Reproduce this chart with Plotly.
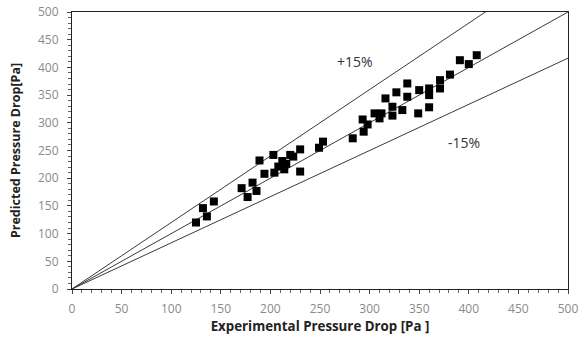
import plotly.graph_objects as go

exp_pd = [125, 132, 136, 143, 171, 177, 182, 186, 189, 194, 203, 204, 208, 212, 214, 216,
          220, 223, 230, 230, 249, 253, 283, 294, 293, 298, 305, 310, 312, 316, 323, 323,
          327, 333, 338, 338, 349, 350, 360, 360, 360, 371, 371, 381, 391, 400, 408]
pred_pd = [120, 146, 131, 158, 182, 166, 192, 177, 232, 208, 242, 210, 221, 231, 216, 226,
           242, 239, 252, 212, 255, 266, 272, 284, 306, 297, 317, 308, 317, 344, 329, 313,
           355, 323, 371, 347, 317, 359, 362, 350, 328, 377, 362, 387, 413, 406, 422]

line_x = [0, 500]
slope_upper = 1.2
slope_lower = 1 / 1.2
x_ticks = [0, 50, 100, 150, 200, 250, 300, 350, 400, 450, 500]

fig = go.Figure()
line_style = dict(color="#3a3a3a", width=1)
fig.add_trace(go.Scatter(x=line_x, y=[v * slope_upper for v in line_x], mode="lines",
                         line=line_style, showlegend=False, hoverinfo="skip"))
fig.add_trace(go.Scatter(x=line_x, y=line_x, mode="lines",
                         line=line_style, showlegend=False, hoverinfo="skip"))
fig.add_trace(go.Scatter(x=line_x, y=[v * slope_lower for v in line_x], mode="lines",
                         line=line_style, showlegend=False, hoverinfo="skip"))
fig.add_trace(go.Scatter(x=exp_pd, y=pred_pd, mode="markers",
                         marker=dict(symbol="square", size=8, color="black"),
                         showlegend=False))

fig.add_annotation(x=285, y=410, text="+15%", showarrow=False,
                   font=dict(family="Open Sans", size=14, color="#333333"))
fig.add_annotation(x=395, y=264, text="-15%", showarrow=False,
                   font=dict(family="Open Sans", size=14, color="#333333"))

axis_common = dict(range=[0, 500], tickvals=x_ticks, showgrid=False, zeroline=False,
                   showline=True, linecolor="#222222", linewidth=1, mirror=True,
                   automargin=False,
                   ticks="outside", ticklen=4, tickcolor="#444444",
                   tickfont=dict(family="Open Sans", size=12, color="#8a8a8a"),
                   minor=dict(dtick=10, ticks="outside", ticklen=3, tickcolor="#666666"))

fig.update_xaxes(**axis_common, ticklabelstandoff=5,
                 title=dict(text="<b>Experimental Pressure Drop [Pa ]</b>", standoff=5,
                            font=dict(family="Open Sans", size=13.3, color="#222222")))
fig.update_yaxes(**axis_common, ticklabelstandoff=6,
                 title=dict(text="<b>Predicted Pressure Drop[Pa]</b>", standoff=14,
                            font=dict(family="Open Sans", size=12.5, color="#222222")))

fig.update_layout(width=579, height=341, margin=dict(l=72, r=11, t=12, b=52),
                  paper_bgcolor="white", plot_bgcolor="white")

fig.write_html("out.html")
